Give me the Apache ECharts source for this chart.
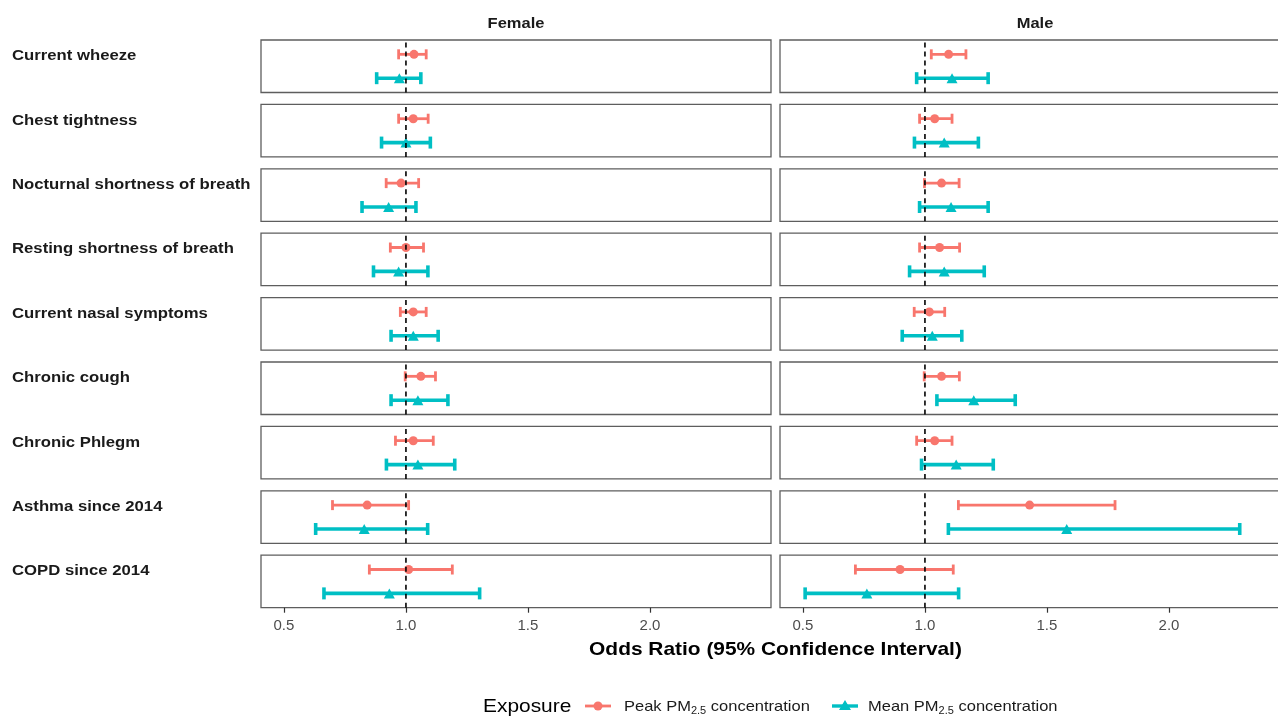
<!DOCTYPE html>
<html>
<head>
<meta charset="utf-8">
<script src="https://cdn.jsdelivr.net/npm/echarts@6/dist/echarts.min.js"></script>
<style>
  html, body { margin: 0; padding: 0; background: #fff; }
  #chart { width: 1278px; height: 717px; }
</style>
</head>
<body>
<div id="chart"></div>
<script>
// Outcomes, one facet row each
const outcomes = [
  'Current wheeze',
  'Chest tightness',
  'Nocturnal shortness of breath',
  'Resting shortness of breath',
  'Current nasal symptoms',
  'Chronic cough',
  'Chronic Phlegm',
  'Asthma since 2014',
  'COPD since 2014'
];
const sexes = ['Female', 'Male'];
const tickValues = [0.5, 1.0, 1.5, 2.0];

// Odds ratios as [lower 95% CI, OR, upper 95% CI]
const femalePeak = [
  [0.970, 1.033, 1.083],
  [0.970, 1.030, 1.091],
  [0.919, 0.980, 1.052],
  [0.936, 1.000, 1.072],
  [0.977, 1.030, 1.083],
  [0.997, 1.061, 1.121],
  [0.957, 1.030, 1.112],
  [0.699, 0.841, 1.011],
  [0.850, 1.011, 1.190]
];
const femaleMean = [
  [0.880, 0.973, 1.061],
  [0.900, 1.000, 1.100],
  [0.820, 0.929, 1.041],
  [0.867, 0.970, 1.090],
  [0.939, 1.030, 1.132],
  [0.939, 1.049, 1.172],
  [0.920, 1.049, 1.200],
  [0.630, 0.829, 1.089],
  [0.664, 0.932, 1.302]
];
const malePeak = [
  [1.026, 1.097, 1.168],
  [0.978, 1.040, 1.111],
  [0.998, 1.068, 1.140],
  [0.978, 1.060, 1.142],
  [0.956, 1.018, 1.081],
  [0.997, 1.068, 1.141],
  [0.966, 1.040, 1.111],
  [1.137, 1.429, 1.779],
  [0.715, 0.898, 1.116]
];
const maleMean = [
  [0.966, 1.111, 1.259],
  [0.957, 1.079, 1.219],
  [0.978, 1.107, 1.259],
  [0.937, 1.079, 1.243],
  [0.907, 1.030, 1.151],
  [1.049, 1.200, 1.370],
  [0.986, 1.128, 1.280],
  [1.096, 1.581, 2.290],
  [0.509, 0.762, 1.138]
];

const PEAK_COLOR = '#F8766D';
const MEAN_COLOR = '#00BFC4';
const Y_PEAK = 2, Y_MEAN = 1;

const panelLeft = [261, 780];
const panelWidth = 510;
const panelTop0 = 40, panelPitch = 64.4, panelHeight = 52.5;
const xMin = 0.406, xMax = 2.496;
const TEXT_STRETCH = 1.1;
const FONT = '"Liberation Sans", Arial, Helvetica, sans-serif';

const grids = [], xAxes = [], yAxes = [], series = [];

function errorBarSeries(idx, rows, yPos, color, lineW, capHalf) {
  return {
    type: 'custom',
    xAxisIndex: idx, yAxisIndex: idx,
    z: 3,
    data: rows.map(r => [r[0], yPos, r[2]]),
    encode: { x: [0, 2], y: 1 },
    renderItem: function (params, api) {
      const lo = api.coord([api.value(0), api.value(1)]);
      const hi = api.coord([api.value(2), api.value(1)]);
      const st = { stroke: color, lineWidth: lineW };
      return {
        type: 'group',
        children: [
          { type: 'line', shape: { x1: lo[0], y1: lo[1], x2: hi[0], y2: hi[1] }, style: st },
          { type: 'line', shape: { x1: lo[0], y1: lo[1] - capHalf, x2: lo[0], y2: lo[1] + capHalf }, style: st },
          { type: 'line', shape: { x1: hi[0], y1: hi[1] - capHalf, x2: hi[0], y2: hi[1] + capHalf }, style: st }
        ]
      };
    }
  };
}

outcomes.forEach((name, r) => {
  sexes.forEach((sex, c) => {
    const idx = grids.length;
    const isBottom = r === outcomes.length - 1;
    grids.push({
      left: panelLeft[c],
      top: panelTop0 + r * panelPitch,
      width: panelWidth,
      height: panelHeight,
      outerBoundsMode: 'none',
      containLabel: false,
      show: true,
      borderColor: '#5e5e5e',
      borderWidth: 1.3,
      backgroundColor: '#fff'
    });
    xAxes.push({
      gridIndex: idx,
      type: 'value',
      min: xMin, max: xMax,
      splitLine: { show: false },
      axisLine: { show: false },
      axisTick: {
        show: isBottom,
        customValues: tickValues,
        length: 5,
        lineStyle: { color: '#333', width: 1.2 }
      },
      axisLabel: {
        show: isBottom,
        customValues: tickValues,
        formatter: v => v.toFixed(1),
        color: '#4d4d4d',
        fontSize: 15,
        margin: 11,
        fontFamily: FONT
      }
    });
    yAxes.push({
      gridIndex: idx,
      type: 'value',
      min: 0.4, max: 2.6,
      show: false
    });

    const peak = c === 0 ? femalePeak[r] : malePeak[r];
    const mean = c === 0 ? femaleMean[r] : maleMean[r];

    series.push(errorBarSeries(idx, [peak], Y_PEAK, PEAK_COLOR, 2.8, 5));
    series.push(errorBarSeries(idx, [mean], Y_MEAN, MEAN_COLOR, 3.6, 6));
    series.push({
      type: 'scatter', xAxisIndex: idx, yAxisIndex: idx, z: 4,
      symbol: 'circle', symbolSize: 9,
      itemStyle: { color: PEAK_COLOR, opacity: 1 },
      data: [[peak[1], Y_PEAK]],
      silent: true
    });
    series.push({
      type: 'scatter', xAxisIndex: idx, yAxisIndex: idx, z: 4,
      symbol: 'triangle', symbolSize: [11, 10],
      itemStyle: { color: MEAN_COLOR, opacity: 1 },
      data: [[mean[1], Y_MEAN]],
      silent: true
    });
    // reference line at OR = 1
    series.push({
      type: 'line', xAxisIndex: idx, yAxisIndex: idx, z: 5,
      data: [[1, 0.4], [1, 2.6]],
      symbol: 'none',
      lineStyle: { color: '#000', width: 1.6, type: [5, 4] },
      silent: true
    });
  });
});

const graphics = [];
// text slightly widened horizontally, scaled about its anchor point
function label(text, x, y, opts) {
  return {
    type: 'text',
    x: x, y: y,
    scaleX: TEXT_STRETCH,
    originX: 0, originY: 0,
    style: Object.assign({ text: text, fontFamily: FONT, verticalAlign: 'middle' }, opts)
  };
}
// facet titles
sexes.forEach((sex, c) => {
  const cx = panelLeft[c] + panelWidth / 2;
  graphics.push(label(sex, cx, 24, { fill: '#1a1a1a', fontSize: 15, fontWeight: 'bold', align: 'center' }));
});
// row labels
outcomes.forEach((name, r) => {
  graphics.push(label(name, 12, panelTop0 + r * panelPitch + 16,
    { fill: '#1a1a1a', fontSize: 15.2, fontWeight: 'bold', align: 'left' }));
});
// x axis title
graphics.push(label('Odds Ratio (95% Confidence Interval)',
  (panelLeft[0] + panelLeft[1] + panelWidth) / 2, 650,
  { fill: '#000', fontSize: 19, fontWeight: 'bold', align: 'center' }));

// legend
const legY = 707;
const subStyle = { fontSize: 10, fontFamily: FONT, fill: '#1a1a1a', padding: [9, 0, 0, 0] };
graphics.push(label('Exposure', 483, legY, { fill: '#000', fontSize: 19, align: 'left' }));
graphics.push({ type: 'line', shape: { x1: 585, y1: legY - 1, x2: 611, y2: legY - 1 }, style: { stroke: PEAK_COLOR, lineWidth: 2.8 } });
graphics.push({ type: 'circle', shape: { cx: 598, cy: legY - 1, r: 4.5 }, style: { fill: PEAK_COLOR } });
graphics.push(label('Peak PM{sub|2.5} concentration', 624, legY,
  { fill: '#1a1a1a', fontSize: 15, align: 'left', rich: { sub: subStyle } }));
graphics.push({ type: 'line', shape: { x1: 832, y1: legY - 1, x2: 858, y2: legY - 1 }, style: { stroke: MEAN_COLOR, lineWidth: 3.4 } });
graphics.push({ type: 'polygon', shape: { points: [[845, legY - 7], [851, legY + 3], [839, legY + 3]] }, style: { fill: MEAN_COLOR } });
graphics.push(label('Mean PM{sub|2.5} concentration', 868, legY,
  { fill: '#1a1a1a', fontSize: 15, align: 'left', rich: { sub: subStyle } }));

const chart = echarts.init(document.getElementById('chart'), null, { renderer: 'canvas' });
chart.setOption({
  animation: false,
  backgroundColor: '#fff',
  grid: grids,
  xAxis: xAxes,
  yAxis: yAxes,
  series: series,
  graphic: graphics
});
</script>
</body>
</html>
